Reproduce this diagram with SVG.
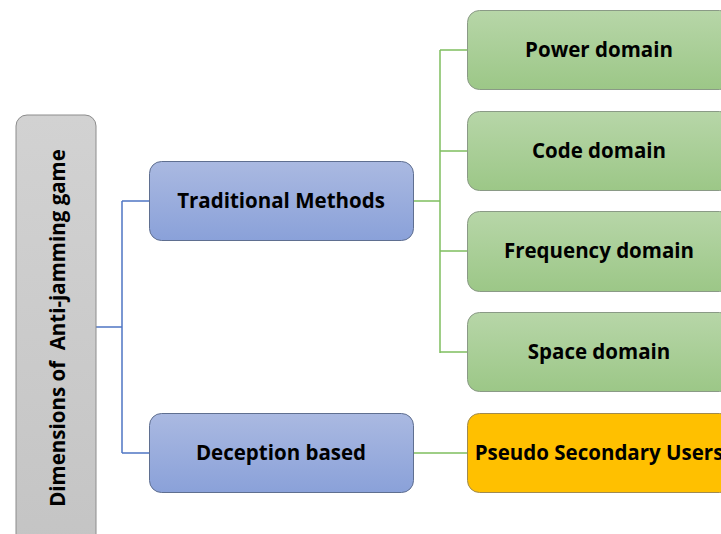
<svg xmlns="http://www.w3.org/2000/svg" width="721" height="534" viewBox="0 0 721 534">
<defs>
<linearGradient id="gBlue" x1="0" y1="0" x2="0" y2="1"><stop offset="0" stop-color="#aab9e1"/><stop offset="1" stop-color="#8aa1d9"/></linearGradient>
<linearGradient id="gGreen" x1="0" y1="0" x2="0" y2="1"><stop offset="0" stop-color="#b7d6a8"/><stop offset="1" stop-color="#9cc787"/></linearGradient>
<linearGradient id="gGray" x1="0" y1="0" x2="0" y2="1"><stop offset="0" stop-color="#d2d2d2"/><stop offset="1" stop-color="#c4c4c4"/></linearGradient>
</defs>
<style>
.t{font-family:"Open Sans","Liberation Sans",Arial,sans-serif;font-weight:bold;font-size:20.5px;fill:#000;text-anchor:middle;dominant-baseline:central;white-space:pre}
.blue{fill:url(#gBlue);stroke:#5f6f90;stroke-width:1}
.green{fill:url(#gGreen);stroke:#8a9a86;stroke-width:1}
.orange{fill:#ffc000;stroke:#a08a50;stroke-width:1}
.gray{fill:url(#gGray);stroke:#8c8c8c;stroke-width:1}
.cb{fill:none;stroke:#4f76c4;stroke-width:1.5}
.cg{fill:none;stroke:#7fbf5f;stroke-width:1.5}
</style>
<g id="connectors">
<path class="cb" d="M96,327 H122 M122,201 V453 M122,201 H149 M122,453 H149"/>
<path class="cg" d="M414,201 H440 M440,50 V353 M440,50 H467 M440,151 H467 M440,251 H467 M440,352 H467 M414,453 H467"/>
</g>
<g id="root">
<rect class="gray" x="16" y="115" width="80" height="440" rx="11"/>
<text class="t" xml:space="preserve" transform="translate(57,328) rotate(-90)">Dimensions of  Anti-jamming game</text>
</g>
<g id="traditional">
<rect class="blue" x="149.5" y="161.5" width="264" height="79" rx="12"/>
<text class="t" x="281" y="200">Traditional Methods</text>
</g>
<g id="deception">
<rect class="blue" x="149.5" y="413.5" width="264" height="79" rx="12"/>
<text class="t" x="281" y="452">Deception based</text>
</g>
<g id="power">
<rect class="green" x="467.5" y="10.5" width="264" height="79" rx="12"/>
<text class="t" x="599" y="49">Power domain</text>
</g>
<g id="code">
<rect class="green" x="467.5" y="111.5" width="264" height="79" rx="12"/>
<text class="t" x="599" y="150">Code domain</text>
</g>
<g id="frequency">
<rect class="green" x="467.5" y="211.5" width="264" height="80" rx="12"/>
<text class="t" x="599" y="250">Frequency domain</text>
</g>
<g id="space">
<rect class="green" x="467.5" y="312.5" width="264" height="79" rx="12"/>
<text class="t" x="599" y="351">Space domain</text>
</g>
<g id="pseudo">
<rect class="orange" x="467.5" y="413.5" width="264" height="79" rx="12"/>
<text class="t" x="599" y="452">Pseudo Secondary Users</text>
</g>
</svg>
